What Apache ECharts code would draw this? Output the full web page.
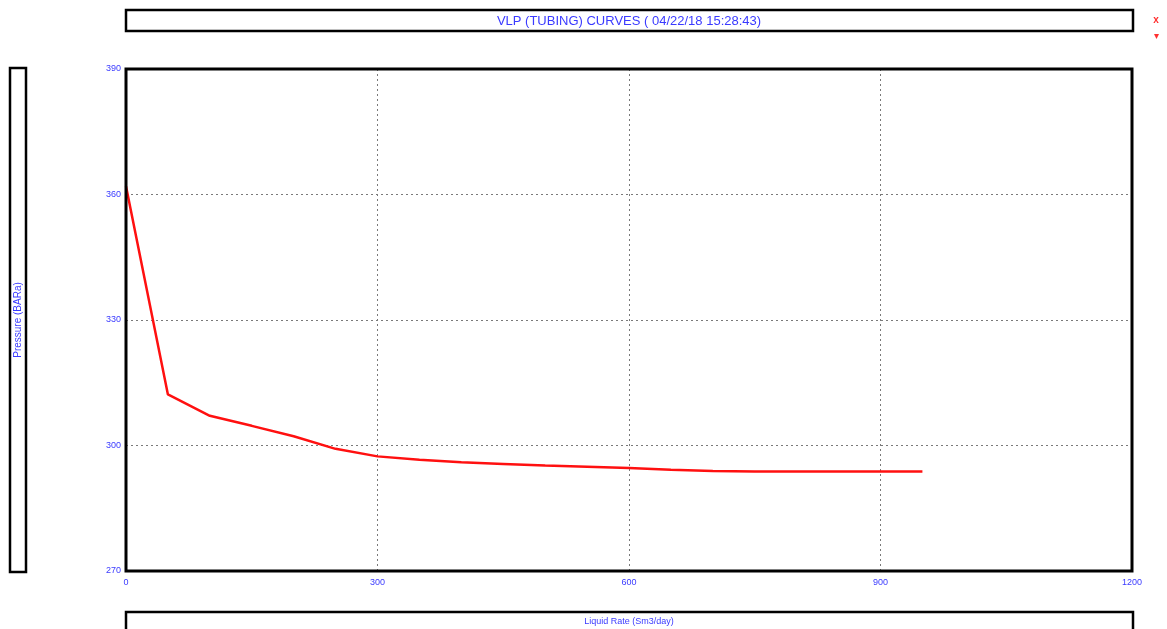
<!DOCTYPE html>
<html>
<head>
<meta charset="utf-8">
<script src="https://cdn.jsdelivr.net/npm/echarts@6/dist/echarts.min.js"></script>
<style>
  html, body { margin: 0; padding: 0; background: #fff; }
  #chart { width: 1167px; height: 629px; }
</style>
</head>
<body>
<div id="chart"></div>
<script>
// Liquid rate (Sm3/day) and tubing outflow pressure (BARa)
const liquidRate = [0, 50, 100, 150, 200, 250, 300, 350, 400, 450, 500, 550, 600, 650, 700, 750, 800, 850, 900, 950];
const pressure = [362.0, 312.2, 307.1, 304.7, 302.2, 299.2, 297.4, 296.6, 296.0, 295.6, 295.2, 294.9, 294.6, 294.2, 293.9, 293.8, 293.8, 293.8, 293.8, 293.8];
const xTicks = [0, 300, 600, 900, 1200];
const yTicks = [270, 300, 330, 360, 390];

const titleText = 'VLP (TUBING) CURVES ( 04/22/18 15:28:43)';
const xName = 'Liquid Rate (Sm3/day)';
const yName = 'Pressure (BARa)';

const FONT = "'Liberation Sans Narrow', 'Liberation Sans', Arial, sans-serif";
const BLUE = '#3a3aff';

// plot frame in pixels
const G = { left: 126, top: 69, right: 1132, bottom: 571 };

const chart = echarts.init(document.getElementById('chart'), null, { renderer: 'canvas' });

const points = liquidRate.map((x, i) => [x, pressure[i]]);
const gridLine = { show: true, lineStyle: { color: '#7a7a7a', type: [2, 3], width: 1 } };

chart.setOption({
  animation: false,
  backgroundColor: '#ffffff',
  grid: { left: G.left, right: 1167 - G.right, top: G.top, bottom: 629 - G.bottom, show: false },
  xAxis: {
    type: 'value',
    min: xTicks[0], max: xTicks[xTicks.length - 1], interval: 300,
    axisLine: { show: false },
    axisTick: { show: false },
    axisLabel: { color: BLUE, fontFamily: FONT, fontSize: 9, margin: 7, formatter: v => String(v) },
    splitLine: gridLine
  },
  yAxis: {
    type: 'value',
    min: yTicks[0], max: yTicks[yTicks.length - 1], interval: 30,
    axisLine: { show: false },
    axisTick: { show: false },
    axisLabel: { color: BLUE, fontFamily: FONT, fontSize: 9, margin: 5, formatter: v => String(v) },
    splitLine: gridLine
  },
  series: [{
    type: 'line',
    data: points,
    showSymbol: false,
    lineStyle: { color: '#ff1010', width: 2.5 },
    z: 3
  }],
  graphic: [
    // plot frame drawn above the grid lines
    { type: 'rect', z: 100, shape: { x: G.left, y: G.top, width: G.right - G.left, height: G.bottom - G.top }, style: { fill: 'none', stroke: '#000', lineWidth: 3 } },
    // title bar
    { type: 'rect', shape: { x: 126, y: 10, width: 1007, height: 21 }, style: { fill: '#fff', stroke: '#000', lineWidth: 2.5 } },
    { type: 'text', x: 629, y: 21, style: { text: titleText, fill: BLUE, font: '13px ' + FONT, textAlign: 'center', textVerticalAlign: 'middle' } },
    // window controls
    { type: 'text', x: 1156, y: 20, style: { text: 'x', fill: '#ff3030', font: 'bold 10px ' + FONT, textAlign: 'center', textVerticalAlign: 'middle' } },
    { type: 'text', x: 1156, y: 36, style: { text: '\u25BE', fill: '#ff3030', font: '10px ' + FONT, textAlign: 'center', textVerticalAlign: 'middle' } },
    // y-axis name bar
    { type: 'rect', shape: { x: 10, y: 68, width: 16, height: 504 }, style: { fill: '#fff', stroke: '#000', lineWidth: 2.5 } },
    { type: 'text', x: 18, y: 320, rotation: Math.PI / 2, style: { text: yName, fill: BLUE, font: '10px ' + FONT, textAlign: 'center', textVerticalAlign: 'middle' } },
    // x-axis name bar
    { type: 'rect', shape: { x: 126, y: 612, width: 1007, height: 22 }, style: { fill: '#fff', stroke: '#000', lineWidth: 2.5 } },
    { type: 'text', x: 629, y: 622, style: { text: xName, fill: BLUE, font: '9px ' + FONT, textAlign: 'center', textVerticalAlign: 'middle' } }
  ]
});
</script>
</body>
</html>
